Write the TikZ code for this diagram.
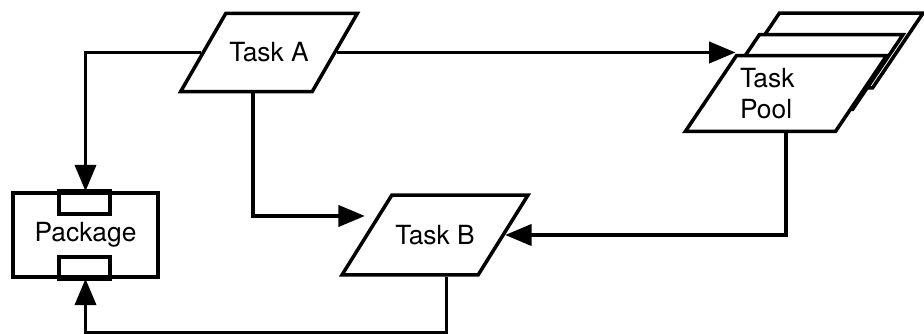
\documentclass[tikz,border=0pt]{standalone}
\usepackage{fontspec}
\setmainfont{TeX Gyre Heros}
\usepackage{tikz}
\usetikzlibrary{arrows.meta,positioning,shapes.geometric}

\begin{document}
\begin{tikzpicture}[
    task/.style={trapezium, trapezium left angle=60, trapezium right angle=120,
                 trapezium stretches body, draw, fill=white, line width=2pt,
                 font=\fontsize{15}{18}\selectfont, text height=10.5pt,
                 text depth=0pt, inner xsep=2pt, inner ysep=17pt},
    pkg/.style={rectangle, draw, line width=2pt, minimum width=29mm,
                minimum height=16.8mm, font=\fontsize{15}{18}\selectfont},
    tab/.style={draw, line width=2pt},
    arr/.style={line width=2pt, -{Triangle[length=15pt,width=12pt]}}
  ]
  \useasboundingbox (0,0) rectangle (18.48,6.68);

  % the two tasks
  \node[task, minimum width=33mm] (taskA) at (5.38,5.63) {Task A};
  \node[task, trapezium left angle=58, trapezium right angle=122,
        minimum width=34.4mm, inner ysep=17.4pt] (taskB) at (8.70,1.98) {Task B};

  % pool: three stacked sheets, back to front
  \node[task, trapezium left angle=56, trapezium right angle=124,
        minimum width=38.8mm, inner ysep=16pt] (pool3) at (16.52,5.67) {};
  \node[task, trapezium left angle=56, trapezium right angle=124,
        minimum width=38.8mm, inner ysep=16pt] (pool2) at (16.12,5.24) {};
  \node[task, trapezium left angle=56, trapezium right angle=124,
        minimum width=38.8mm, text width=18.4mm, align=left, text height=,
        text depth=, inner ysep=7pt] (pool) at (15.72,4.81) {Task\\Pool};

  % package with its two tabs
  \node[pkg] (pkg) at (1.71,1.98) {Package};
  \draw[tab] ([xshift=-5.3mm]pkg.north) rectangle ([xshift=4.9mm,yshift=-4.6mm]pkg.north);
  \draw[tab] ([xshift=-5.3mm]pkg.south) rectangle ([xshift=4.9mm,yshift=4.4mm]pkg.south);

  % connectors
  \draw[arr] (taskA.west) -| (pkg.north);
  \draw[arr] (taskA.east) -- (taskA.east -| pool.top left corner);
  \draw[arr] ([xshift=-3.2mm]taskA.south) |- ([yshift=3.8mm]taskB.west);
  \draw[arr] (pool.south) |- (taskB.east);
  \draw[arr] ([xshift=2.3mm]taskB.south) -- ++(0,-1.12) -| (pkg.south);
\end{tikzpicture}
\end{document}
